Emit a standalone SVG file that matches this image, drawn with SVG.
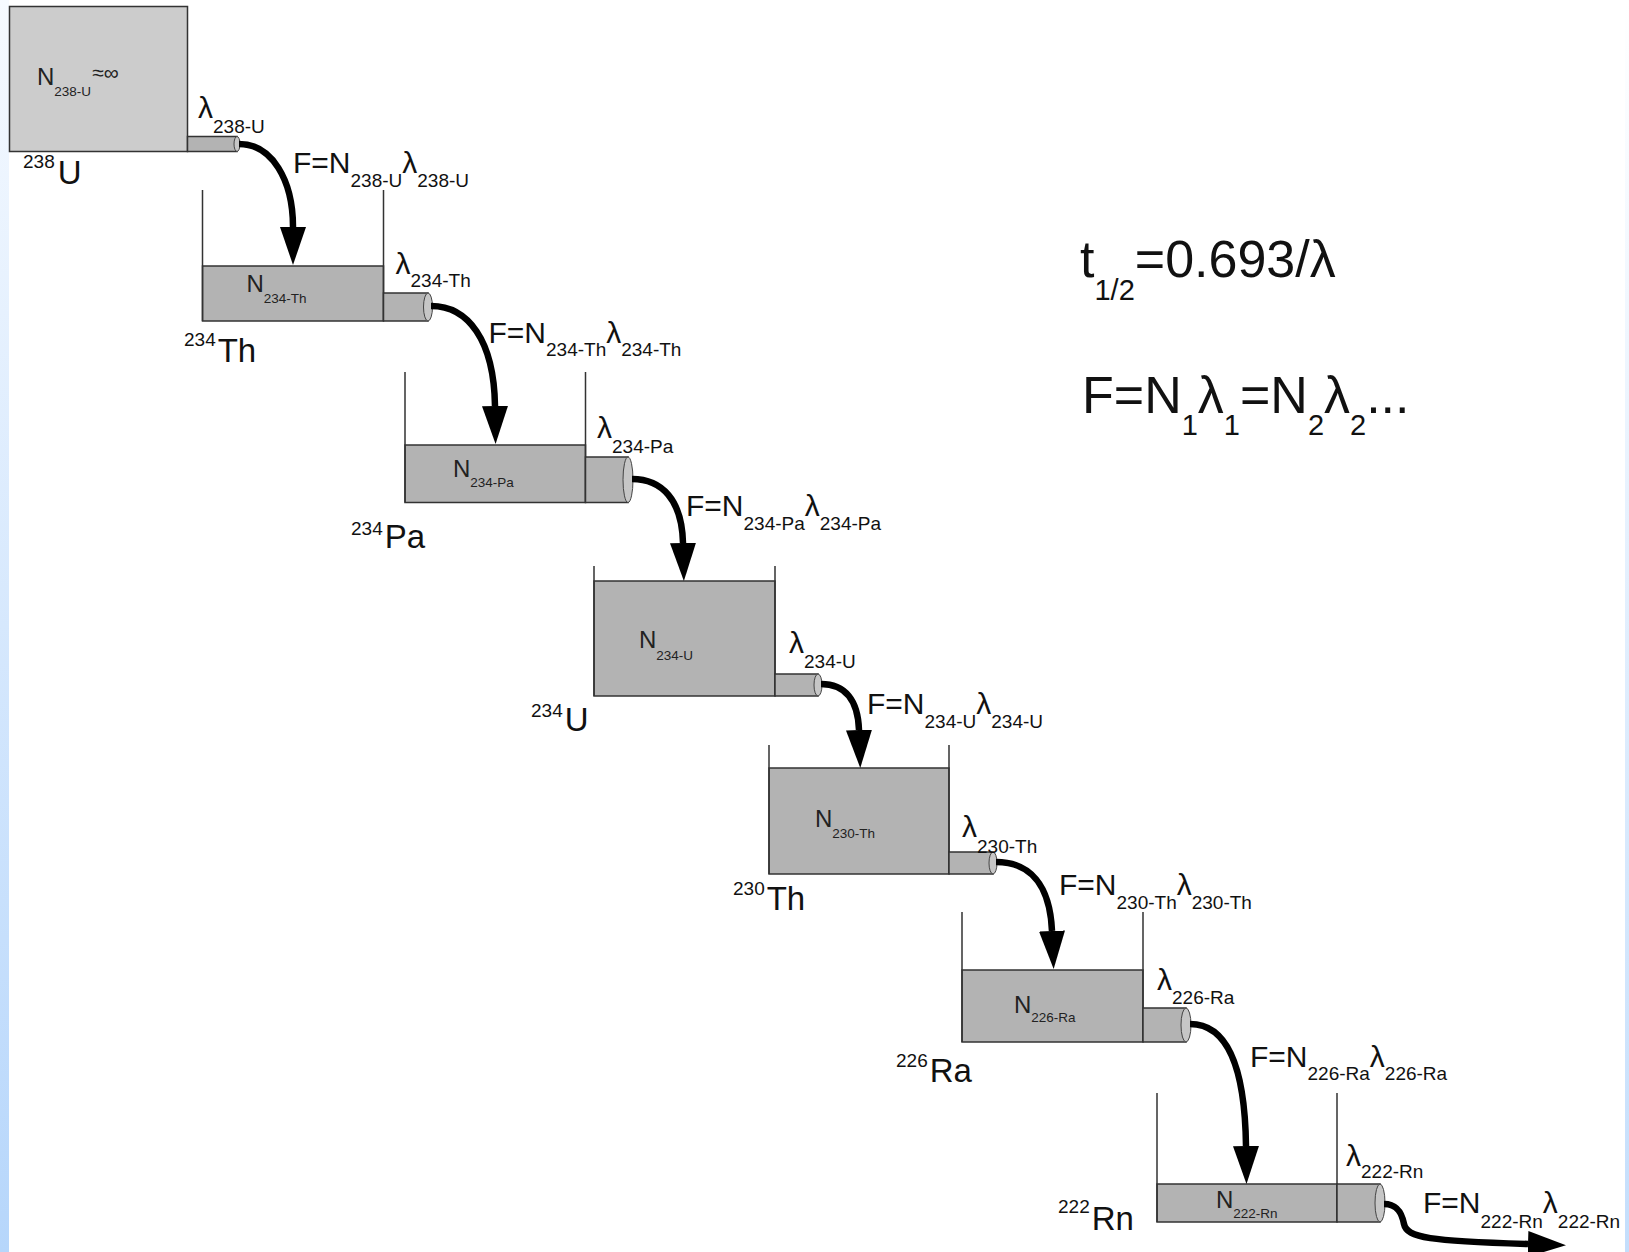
<svg xmlns="http://www.w3.org/2000/svg" width="1629" height="1252" viewBox="0 0 1629 1252">
<defs>
<linearGradient id="edgeL" x1="0" y1="0" x2="0" y2="1">
<stop offset="0" stop-color="#f6faff"/>
<stop offset="1" stop-color="#b6d6fb"/>
</linearGradient>
<linearGradient id="edgeR" x1="0" y1="0" x2="0" y2="1">
<stop offset="0" stop-color="#ffffff"/>
<stop offset="1" stop-color="#c4defc"/>
</linearGradient>
<marker id="ah" markerUnits="userSpaceOnUse" viewBox="0 0 40 26" markerWidth="40" markerHeight="26" refX="0" refY="13" orient="auto">
<path d="M0,0 L38,13 L0,26 Z" fill="#000"/>
</marker>
<style>
.wall{fill:none;stroke:#333;stroke-width:1.5}
.tank{fill:#b3b3b3;stroke:#333;stroke-width:1.5}
.tank1{fill:#cccccc;stroke:#333;stroke-width:1.5}
.pipe{fill:#b3b3b3;stroke:#333;stroke-width:1.5}
.cap{fill:#c6c6c6;stroke:#444;stroke-width:1}
.flow{fill:none;stroke:#000;stroke-width:6.5;marker-end:url(#ah)}
text{font-family:"Liberation Sans",Arial,sans-serif;fill:#111}
.nb{font-size:24px;fill:#222}
.nbs{font-size:13.5px}
.lam{font-size:30px}
.sub{font-size:19px}
.isos{font-size:19px}
.iso{font-size:33px}
.big{font-size:52px}
.bigs{font-size:29px}
.inf{font-size:21px}
</style>
</defs>
<rect x="0" y="0" width="1629" height="1252" fill="#ffffff"/>
<rect x="0" y="0" width="9" height="1252" fill="url(#edgeL)"/>
<rect x="1625" y="0" width="4" height="1252" fill="url(#edgeR)"/>

<g id="stage-238U">
<rect class="tank1" x="9.5" y="6.5" width="178" height="145"/>
<rect class="pipe" x="187.5" y="136.5" width="49.5" height="15"/>
<ellipse class="cap" cx="237" cy="144" rx="3" ry="7.5"/>
<text class="nb" x="37" y="85">N<tspan class="nbs" dy="11">238-U</tspan><tspan class="inf" dy="-16" dx="1">≈∞</tspan></text>
<text class="lam" x="198" y="118">λ<tspan class="sub" dy="15">238-U</tspan></text>
<text class="isos" x="23" y="168">238<tspan class="iso" dy="16" dx="3">U</tspan></text>
</g>

<g id="stage-234Th">
<rect class="tank" x="202.5" y="266" width="181" height="55"/>
<path class="wall" d="M202.5,190 V321 M383.5,190 V321"/>
<rect class="pipe" x="383.5" y="293" width="44.5" height="28"/>
<ellipse class="cap" cx="428" cy="307" rx="4.5" ry="14"/>
<text class="nb" x="246.5" y="292">N<tspan class="nbs" dy="11">234-Th</tspan></text>
<text class="lam" x="395.5" y="274">λ<tspan class="sub" dy="13">234-Th</tspan></text>
<text class="isos" x="184" y="346">234<tspan class="iso" dy="16" dx="2">Th</tspan></text>
</g>

<g id="stage-234Pa">
<rect class="tank" x="405" y="445" width="180.5" height="57.5"/>
<path class="wall" d="M405,372 V502.5 M585.5,372 V502.5"/>
<rect class="pipe" x="585.5" y="457" width="42.5" height="45.5"/>
<ellipse class="cap" cx="628" cy="479.75" rx="5" ry="22.75"/>
<text class="nb" x="453" y="477">N<tspan class="nbs" dy="10">234-Pa</tspan></text>
<text class="lam" x="597" y="438">λ<tspan class="sub" dy="15">234-Pa</tspan></text>
<text class="isos" x="351" y="535">234<tspan class="iso" dy="13" dx="2">Pa</tspan></text>
</g>

<g id="stage-234U">
<rect class="tank" x="594" y="581" width="181" height="115"/>
<path class="wall" d="M594,566 V696 M775,566 V696"/>
<rect class="pipe" x="775" y="674" width="43" height="22"/>
<ellipse class="cap" cx="818" cy="685" rx="4" ry="11"/>
<text class="nb" x="639" y="648">N<tspan class="nbs" dy="12">234-U</tspan></text>
<text class="lam" x="789" y="653">λ<tspan class="sub" dy="15">234-U</tspan></text>
<text class="isos" x="531" y="717">234<tspan class="iso" dy="14" dx="2">U</tspan></text>
</g>

<g id="stage-230Th">
<rect class="tank" x="769" y="768" width="180" height="106"/>
<path class="wall" d="M769,745 V874 M949,745 V874"/>
<rect class="pipe" x="949" y="852" width="44" height="22"/>
<ellipse class="cap" cx="993" cy="863" rx="4" ry="11"/>
<text class="nb" x="815" y="827">N<tspan class="nbs" dy="11">230-Th</tspan></text>
<text class="lam" x="962" y="837">λ<tspan class="sub" dy="16">230-Th</tspan></text>
<text class="isos" x="733" y="895">230<tspan class="iso" dy="15" dx="2">Th</tspan></text>
</g>

<g id="stage-226Ra">
<rect class="tank" x="962" y="970" width="181" height="72"/>
<path class="wall" d="M962,912 V1042 M1143,912 V1042"/>
<rect class="pipe" x="1143" y="1008" width="43" height="34"/>
<ellipse class="cap" cx="1186" cy="1025" rx="5" ry="17"/>
<text class="nb" x="1014" y="1013">N<tspan class="nbs" dy="9">226-Ra</tspan></text>
<text class="lam" x="1157" y="990">λ<tspan class="sub" dy="14">226-Ra</tspan></text>
<text class="isos" x="896" y="1067">226<tspan class="iso" dy="15" dx="2">Ra</tspan></text>
</g>

<g id="stage-222Rn">
<rect class="tank" x="1157" y="1184" width="180" height="38"/>
<path class="wall" d="M1157,1093 V1222 M1337,1093 V1222"/>
<rect class="pipe" x="1337" y="1184" width="43" height="38"/>
<ellipse class="cap" cx="1380" cy="1203" rx="5" ry="19"/>
<text class="nb" x="1216" y="1208">N<tspan class="nbs" dy="10">222-Rn</tspan></text>
<text class="lam" x="1346" y="1166">λ<tspan class="sub" dy="12">222-Rn</tspan></text>
<text class="isos" x="1058" y="1213">222<tspan class="iso" dy="17" dx="2">Rn</tspan></text>
</g>

<g id="connectors">
<path class="flow" d="M239,144 C272,144 293,180 293,227"/>
<path class="flow" d="M431,306 C468,306 494,340 495,406"/>
<path class="flow" d="M632,479 C662,479 682,500 683,543"/>
<path class="flow" d="M821,684 C845,684 858,700 859,730"/>
<path class="flow" d="M996,862 C1030,862 1050,885 1052,931"/>
<path class="flow" d="M1190,1024 C1228,1024 1245,1070 1246,1146"/>
<path class="flow" d="M1384,1204 C1398,1204 1402,1214 1404,1224 C1407,1238 1430,1241 1528,1244"/>
<text class="lam" x="293" y="173">F=N<tspan class="sub" dy="14">238-U</tspan><tspan dy="-14">λ</tspan><tspan class="sub" dy="14">238-U</tspan></text>
<text class="lam" x="488.5" y="343">F=N<tspan class="sub" dy="13">234-Th</tspan><tspan dy="-13">λ</tspan><tspan class="sub" dy="13">234-Th</tspan></text>
<text class="lam" x="686" y="516">F=N<tspan class="sub" dy="14">234-Pa</tspan><tspan dy="-14">λ</tspan><tspan class="sub" dy="14">234-Pa</tspan></text>
<text class="lam" x="867" y="714">F=N<tspan class="sub" dy="14">234-U</tspan><tspan dy="-14">λ</tspan><tspan class="sub" dy="14">234-U</tspan></text>
<text class="lam" x="1059" y="895">F=N<tspan class="sub" dy="14">230-Th</tspan><tspan dy="-14">λ</tspan><tspan class="sub" dy="14">230-Th</tspan></text>
<text class="lam" x="1250" y="1067">F=N<tspan class="sub" dy="13">226-Ra</tspan><tspan dy="-13">λ</tspan><tspan class="sub" dy="13">226-Ra</tspan></text>
<text class="lam" x="1423" y="1213">F=N<tspan class="sub" dy="15">222-Rn</tspan><tspan dy="-15">λ</tspan><tspan class="sub" dy="15">222-Rn</tspan></text>
</g>

<g id="formulas">
<text class="big" x="1080" y="277">t<tspan class="bigs" dy="23">1/2</tspan><tspan dy="-23">=0.693/λ</tspan></text>
<text class="big" x="1082" y="413">F=N<tspan class="bigs" dy="22">1</tspan><tspan dy="-22">λ</tspan><tspan class="bigs" dy="22">1</tspan><tspan dy="-22">=N</tspan><tspan class="bigs" dy="22">2</tspan><tspan dy="-22">λ</tspan><tspan class="bigs" dy="22">2</tspan><tspan dy="-22">...</tspan></text>
</g>
</svg>
